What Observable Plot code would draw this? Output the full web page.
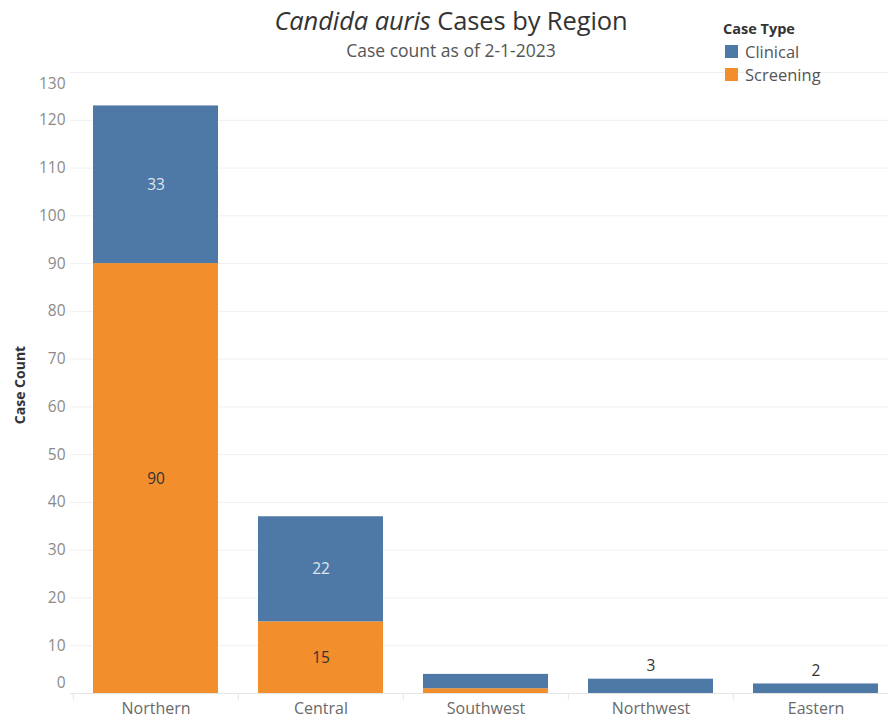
<!DOCTYPE html>
<html>
<head>
<meta charset="utf-8">
<script src="https://cdn.jsdelivr.net/npm/d3@7"></script>
<script src="https://cdn.jsdelivr.net/npm/@observablehq/plot@0.6"></script>
<style>
  html, body { margin: 0; padding: 0; background: #fff; }
  #wrap { position: relative; width: 888px; height: 719px; font-family: "Open Sans", sans-serif; overflow: hidden; }
  #chart { position: absolute; left: 0; top: 0; }
  .title { position: absolute; left: 0; width: 902px; top: 3px; text-align: center; font-size: 25.5px; color: #333; letter-spacing: -0.1px; }
  .subtitle { position: absolute; left: 0; width: 902px; top: 38px; text-align: center; font-size: 17.5px; color: #555; }
  .legend { position: absolute; left: 723px; top: 19px; color: #555; }
  .legend .lt { font-weight: bold; font-size: 14.5px; color: #333; margin-bottom: 2px; }
  .legend .item { font-size: 16.5px; height: 23px; line-height: 23px; display: flex; align-items: center; }
  .legend .sw { width: 13px; height: 13px; margin: 0 7px 0 2px; }
  .ytitle { position: absolute; left: 19px; top: 385px; transform: translate(-50%, -50%) rotate(-90deg); font-weight: bold; font-size: 14px; color: #333; white-space: nowrap; }
</style>
</head>
<body>
<div id="wrap">
  <div id="chart"></div>
  <div class="title"><i>Candida auris</i> Cases by Region</div>
  <div class="subtitle">Case count as of 2-1-2023</div>
  <div class="ytitle">Case Count</div>
  <div class="legend" id="legend"></div>
</div>
<script>
const regions = ["Northern", "Central", "Southwest", "Northwest", "Eastern"];
const caseTypes = ["Clinical", "Screening"];
const clinical = [33, 22, 3, 3, 2];
const screening = [90, 15, 1, 0, 0];
const yTicks = [0, 10, 20, 30, 40, 50, 60, 70, 80, 90, 100, 110, 120, 130];
const colors = ["#4e79a7", "#f28e2b"];

// stack order: Screening at bottom, Clinical on top
const rows = [];
regions.forEach((r, i) => rows.push({region: r, type: "Screening", value: screening[i]}));
regions.forEach((r, i) => rows.push({region: r, type: "Clinical", value: clinical[i]}));
const screeningOf = Object.fromEntries(regions.map((r, i) => [r, screening[i]]));

const axisStyle = {tickSize: 0, tickPadding: 5, fontSize: 15.5, fill: "#8a8a8a", label: null};

const chart = Plot.plot({
  width: 888,
  height: 719,
  marginTop: 72,
  marginBottom: 26,
  marginLeft: 70,
  marginRight: 0,
  style: {fontFamily: "'Open Sans', sans-serif", background: "white"},
  x: {domain: regions, range: [72, 899], paddingInner: 0.244, paddingOuter: 0.122, label: null},
  y: {domain: [0, 130], label: null},
  color: {domain: caseTypes, range: colors},
  marks: [
    Plot.gridY(yTicks.filter(t => t > 0), {stroke: "#efefef", strokeOpacity: 1}),
    Plot.ruleY([0], {stroke: "#e4e4e4"}),
    Plot.ruleX(regions, {x: d => d, y1: 0, y2: -1.4, dx: -82.7, stroke: "#e4e4e4"}),
    Plot.barY(rows, Plot.stackY({x: "region", y: "value", fill: "type"})),
    Plot.axisY(yTicks.slice(1, -1), axisStyle),
    Plot.axisY([0], {...axisStyle, dy: -10}),
    Plot.axisY([130], {...axisStyle, dy: 12}),
    Plot.axisX({tickSize: 0, tickPadding: 9, fontSize: 16, fill: "#6a6a6a", label: null}),
    // labels inside segments
    Plot.text(rows, Plot.stackY({x: "region", y: "value",
      text: d => d.type === "Clinical" && d.value >= 10 ? String(d.value) : null,
      fill: "#dfe5ee", fontSize: 15.5})),
    Plot.text(rows, Plot.stackY({x: "region", y: "value",
      text: d => d.type === "Screening" && d.value >= 10 ? String(d.value) : null,
      fill: "#333", fontSize: 15.5})),
    // labels above thin single-segment bars
    Plot.text(rows, Plot.stackY2({x: "region", y: "value",
      text: d => d.type === "Clinical" && d.value < 10 && screeningOf[d.region] === 0 ? String(d.value) : null,
      fill: "#333", fontSize: 15.5, dy: -13}))
  ]
});
document.getElementById("chart").appendChild(chart);

const legend = document.getElementById("legend");
legend.innerHTML = `<div class="lt">Case Type</div>` +
  caseTypes.map((t, i) => `<div class="item"><span class="sw" style="background:${colors[i]}"></span>${t}</div>`).join("");
</script>
</body>
</html>
